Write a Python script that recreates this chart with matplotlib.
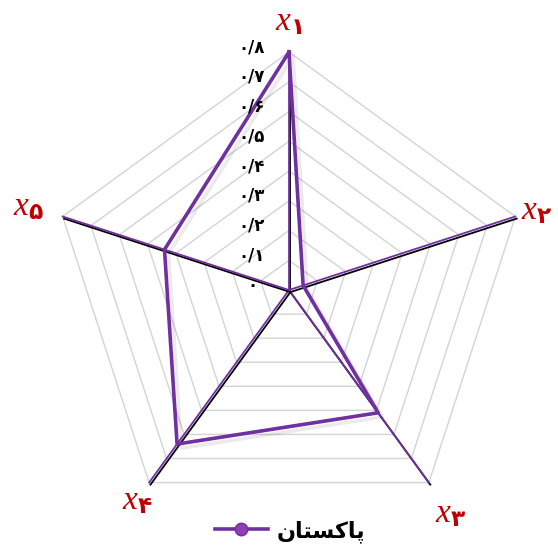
import numpy as np
import matplotlib.pyplot as plt
from matplotlib import patheffects as pe
from matplotlib.lines import Line2D
from matplotlib.transforms import offset_copy

# data
categories = ['۱', '۲', '۳', '۴', '۵']          # subscripts of x
values = [0.80, 0.05, 0.51, 0.64, 0.44]
series_name = 'پاکستان'
r_ticks = [0.0, 0.1, 0.2, 0.3, 0.4, 0.5, 0.6, 0.7, 0.8]
r_tick_labels = ['۰', '۰/۱', '۰/۲', '۰/۳', '۰/۴', '۰/۵', '۰/۶', '۰/۷', '۰/۸']

# radius at which each category label sits
label_r = [0.905, 0.875, 0.925, 0.87, 0.92]

PURPLE = '#7030A0'
RED = '#C00000'
GRID = '#D4D4D4'

# matplotlib has no arabic shaping -> map to presentation forms by hand
FORMS = {  # isolated, final, initial, medial
    'پ': ('\uFB56', '\uFB57', '\uFB58', '\uFB59'),
    'ا': ('\uFE8D', '\uFE8E', None, None),
    'ک': ('\uFB8E', '\uFB8F', '\uFB90', '\uFB91'),
    'س': ('\uFEB1', '\uFEB2', '\uFEB3', '\uFEB4'),
    'ت': ('\uFE95', '\uFE96', '\uFE97', '\uFE98'),
    'ن': ('\uFEE5', '\uFEE6', '\uFEE7', '\uFEE8'),
}


def shape(s):
    out = []
    for i, ch in enumerate(s):
        f = FORMS.get(ch)
        if f is None:
            out.append(ch)
            continue
        prev_j = i > 0 and s[i - 1] in FORMS and FORMS[s[i - 1]][2] is not None
        next_j = i < len(s) - 1 and s[i + 1] in FORMS and f[2] is not None
        if prev_j and next_j:
            out.append(f[3])
        elif prev_j:
            out.append(f[1])
        elif next_j:
            out.append(f[2])
        else:
            out.append(f[0])
    return ''.join(reversed(out))


plt.rcParams['font.family'] = ['DejaVu Sans']
plt.rcParams['mathtext.fontset'] = 'custom'
plt.rcParams['mathtext.it'] = 'Liberation Serif:italic'
plt.rcParams['mathtext.rm'] = 'DejaVu Sans:bold'

fig = plt.figure(figsize=(5.58, 5.57), dpi=100)
ax = fig.add_axes([0.0914, 0.052, 0.853, 0.8546], projection='polar')
ax.set_theta_zero_location('N')
ax.set_theta_direction(-1)
ax.set_ylim(0, 0.8)
ax.axis('off')

n = len(categories)
theta = np.deg2rad(np.arange(n) * 360.0 / n)
theta_c = np.append(theta, theta[0])

# pentagon grid
for r in r_ticks[1:]:
    ax.plot(theta_c, [r] * (n + 1), color=GRID, lw=1.0, clip_on=False, zorder=1)

# spokes (purple with black shadow)
spoke_fx = [pe.SimpleLineShadow(offset=(1, -1.5), shadow_color='black', alpha=1.0), pe.Normal()]
for t in theta:
    ax.plot([t, t], [0, 0.8], color=PURPLE, lw=1.3, clip_on=False, zorder=2,
            path_effects=spoke_fx)

# data line
vals_c = values + values[:1]
ax.plot(theta_c, vals_c, color=PURPLE, lw=2.6, clip_on=False, zorder=3,
        path_effects=[pe.SimpleLineShadow(offset=(3, -3), alpha=0.08), pe.Normal()])

# radial tick labels left of the top spoke
tr = offset_copy(ax.transData, fig=fig, x=-37, y=5, units='dots')
for r, lab in zip(r_ticks, r_tick_labels):
    ax.text(0, r, lab, transform=tr, ha='center', va='center', fontsize=12,
            fontweight='bold', color='black')

# category labels
for t, c, lr in zip(theta, categories, label_r):
    ax.text(t, lr, '$x_{\\mathrm{' + c + '}}$', ha='center', va='center',
            fontsize=24, color=RED, clip_on=False)

handle = Line2D([], [], color=PURPLE, lw=2.6, marker='o', ms=9,
                markerfacecolor='#8E3FB4', markeredgecolor=PURPLE)
fig.legend([handle], [shape(series_name)], loc='lower center',
           bbox_to_anchor=(0.52, -0.01), frameon=False,
           prop={'size': 16, 'weight': 'bold'}, handlelength=2.4,
           handletextpad=0.4)

fig.savefig('out.png', dpi=100)
